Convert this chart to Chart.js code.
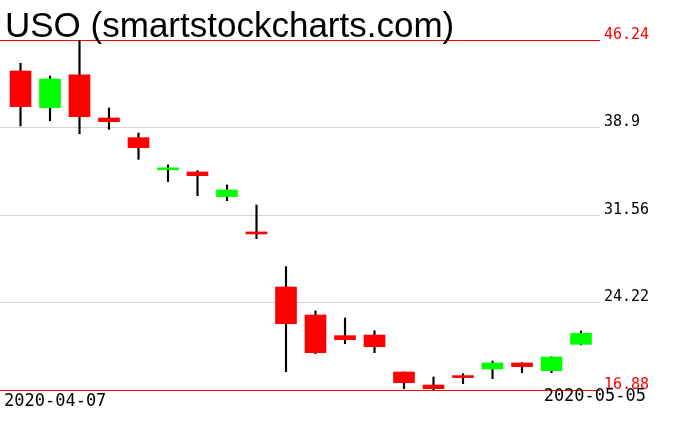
<!DOCTYPE html>
<html>
<head>
<meta charset="utf-8">
<script src="https://cdn.jsdelivr.net/npm/chart.js@4"></script>
<style>
  body { margin: 0; background: #fff; }
</style>
</head>
<body>
<canvas id="chart" width="676" height="431"></canvas>
<script>
// даты торговых дней
const dates = ["2020-04-07", "2020-04-08", "2020-04-09", "2020-04-13", "2020-04-14",
  "2020-04-15", "2020-04-16", "2020-04-17", "2020-04-20", "2020-04-21",
  "2020-04-22", "2020-04-23", "2020-04-24", "2020-04-27", "2020-04-28",
  "2020-04-29", "2020-04-30", "2020-05-01", "2020-05-04", "2020-05-05"];

// цены OHLC
const opens  = [43.64, 40.56, 43.31, 39.70, 38.05, 35.35, 35.17, 33.10, 30.02, 25.52,
  23.17, 21.44, 21.49, 18.39, 17.30, 17.96, 18.64, 19.15, 18.50, 20.71];
const highs  = [44.29, 43.22, 46.24, 40.54, 38.44, 35.76, 35.28, 34.08, 32.40, 27.23,
  23.51, 22.92, 21.85, 18.39, 17.97, 18.25, 19.31, 19.17, 19.67, 21.83];
const lows   = [39.03, 39.47, 38.38, 38.75, 36.23, 34.36, 33.18, 32.76, 29.57, 18.42,
  19.93, 20.76, 20.01, 16.99, 16.88, 17.41, 17.83, 18.33, 18.33, 20.66];
const closes = [40.65, 42.97, 39.81, 39.39, 37.21, 35.42, 34.86, 33.66, 29.97, 22.44,
  20.01, 21.10, 20.51, 17.49, 16.99, 17.92, 19.15, 18.84, 19.65, 21.64];

// шкала цен
const tickValues = [16.88, 24.22, 31.56, 38.9, 46.24];
const tickLabels = ["16.88", "24.22", "31.56", "38.9", "46.24"];

const title = "USO (smartstockcharts.com)";


// тела и тени свечей
const bodies = opens.map((o, i) => ({ x: i, y: [o, closes[i]] }));
const wicks = highs.map((h, i) => ({ x: i, y: [lows[i], h] }));
const bodyColors = opens.map((o, i) => closes[i] >= o ? "#00ff00" : "#ff0000");


// заголовок и даты
const textPlugin = {
  id: "texts",
  afterDraw(chart) {
    const c = chart.ctx;
    c.save();
    c.fillStyle = "#000";
    c.textBaseline = "alphabetic";
    c.font = "35px 'Liberation Sans'";
    c.textAlign = "left";
    c.fillText(title, 5, 37);

    c.font = "17px 'DejaVu Sans Mono'";
    c.fillText(dates[0], 4, 406);
    c.textAlign = "right";
    c.fillText(dates[dates.length - 1], 646, 401);
    c.restore();
  }
};


const chart = new Chart(document.getElementById("chart"), {
  type: "bar",
  data: {
    datasets: [
      {
        data: bodies,
        backgroundColor: bodyColors,
        borderWidth: 0,
        barThickness: 21,
        minBarLength: 2,
        grouped: false,
        order: 1
      },
      {
        data: wicks,
        backgroundColor: "#000",
        borderWidth: 0,
        barThickness: 1.5,
        grouped: false,
        order: 2
      }
    ]
  },
  options: {
    responsive: false,
    animation: false,
    layout: { padding: { top: 40, bottom: 41, left: 0, right: 0 } },
    plugins: {
      legend: { display: false },
      tooltip: { enabled: false }
    },
    scales: {
      x: {
        type: "linear",
        offset: false,
        min: -0.695,
        max: 19.644,
        display: false
      },
      y: {
        position: "right",
        min: 16.88,
        max: 46.24,
        afterBuildTicks: (scale) => {
          scale.ticks = tickValues.map(v => ({ value: v }));
        },
        afterFit: (scale) => { scale.width = 76; },
        border: { display: false },
        grid: {
          drawTicks: false,
          color: (ctx) => (ctx.index === 0 || ctx.index === tickValues.length - 1) ? "#ff0000" : "#d3d3d3"
        },
        ticks: {
          padding: 4,
          labelOffset: -5,
          font: { family: "'DejaVu Sans Mono'", size: 15 },
          color: (ctx) => (ctx.index === 0 || ctx.index === tickValues.length - 1) ? "#ff0000" : "#000",
          callback: (value, index) => tickLabels[index]
        }
      }
    }
  },
  plugins: [textPlugin]
});
</script>
</body>
</html>
